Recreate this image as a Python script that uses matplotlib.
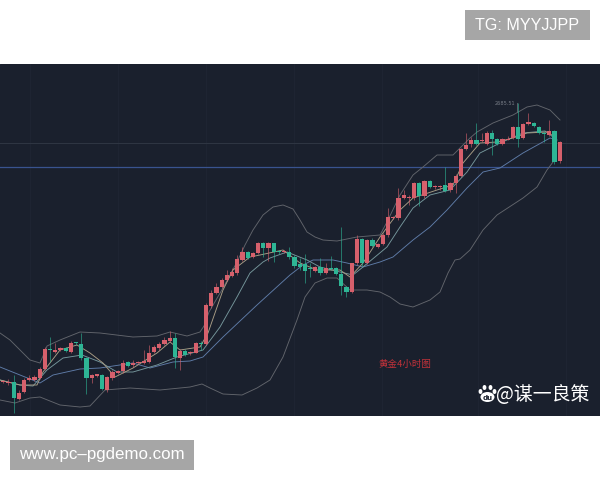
import numpy as np
import matplotlib
matplotlib.use("Agg")
import matplotlib.pyplot as plt
from matplotlib.patches import Rectangle, Ellipse

# one entry per candle, chart scale (smaller = higher price)
body_top = [382,381,382,382,393,380,378,377,369,349,349,350,348,348,343,342,344,358,375,374,375,377,372,371,363,362,363,362,361,353,347,344,340,338,338,351,351,352,343,343,305,293,287,280,275,272,259,252,252,253,243,243,243,243,251,251,252,257,264,264,268,267,267,268,268,268,274,287,263,239,239,240,240,244,235,217,217,198,195,197,183,183,181,181,186,186,185,183,176,149,145,140,140,140,133,133,139,139,139,127,127,124,122,123,127,133,131,131,142]
body_bot = [387,382,383,398,399,392,380,380,378,369,350,352,350,351,352,343,358,378,378,376,389,390,378,373,371,366,365,363,363,362,352,348,344,341,357,358,355,353,353,344,344,306,293,287,280,276,273,260,258,257,253,248,248,252,252,252,257,266,267,271,269,271,273,273,269,274,286,292,292,263,263,263,246,247,244,235,218,218,198,198,198,196,196,187,187,187,191,190,183,176,149,144,144,141,144,139,144,144,140,138,139,138,124,126,133,134,135,162,161]
wick_top = [380,380,379,375,390,378,375,375,367,347,337,343,347,347,341,342,333,357,374,374,374,376,370,370,360,361,360,361,350,345,345,342,337,331,333,349,349,351,342,341,303,290,283,278,270,268,255,247,251,252,242,242,242,243,250,250,247,255,258,254,263,266,258,263,256,267,227,286,263,235,238,239,238,243,233,208,216,188,190,195,182,182,180,180,185,185,167,182,174,148,133,137,123,133,131,130,138,138,136,126,103,123,113,122,126,131,120,130,141]
wick_bot = [389,383,385,413,400,393,381,381,379,370,362,353,351,352,353,345,360,394,383,377,390,392,380,374,373,367,367,364,364,363,353,350,345,342,368,370,356,355,353,350,345,308,294,288,281,277,275,261,259,258,254,257,261,262,254,253,259,268,270,283,277,272,275,274,270,275,295,297,293,265,266,264,247,248,245,237,219,220,199,205,200,206,198,188,189,190,192,192,193,177,150,147,145,142,145,155,145,145,140,139,147,139,125,127,134,142,136,164,163]
green_candles = [3,10,13,15,16,17,20,25,34,36,39,48,51,53,54,56,57,58,59,60,62,64,65,66,67,70,72,81,83,86,92,95,96,100,103,104,105,107]

candle_time = [5.2 * i - 2 for i in range(len(body_top))]

upper_t = [0,10,20,30,40,43,47,60,80,100,133,157,170,187,200,204,209,223,237,245,253,263,273,283,293,300,307,315,323,337,347,357,380,387,400,413,423,437,453,460,470,477,493,513,527,537,550,560]
upper_v = [333,340,350,360,363,356,346,340,332,333,337,336,332,336,332,326,312,288,262,245,230,215,207,205,209,220,232,237,240,241,239,237,235,222,195,175,167,155,155,148,138,132,123,115,107,105,110,120]
lower_t = [0,15,30,40,60,80,90,105,130,160,180,190,202,210,223,242,257,270,283,297,305,315,327,337,350,367,380,390,400,413,430,440,448,455,460,470,483,497,523,537,547,553]
lower_v = [400,403,398,397,405,407,406,390,388,390,388,387,384,388,394,395,388,380,357,320,297,283,278,278,290,290,292,297,304,307,300,292,273,260,259,250,230,215,198,187,170,162]
mid_t = [0,20,40,53,80,100,133,150,173,190,203,223,257,290,303,313,333,347,363,380,393,413,430,447,467,483,500,523,550,556]
mid_v = [367,375,383,375,369,368,363,368,362,361,357,337,305,275,265,260,260,263,267,262,257,240,227,210,188,172,168,153,138,140]
fast_t = [0,20,37,43,60,77,90,103,115,133,157,170,180,200,208,223,233,250,260,283,300,317,340,350,363,380,400,413,437,453,463,480,497,513,527,547,555]
fast_v = [380,385,385,372,350,345,353,363,377,368,353,342,350,347,333,290,270,257,255,250,263,270,270,277,263,237,210,198,190,185,163,143,142,138,133,132,137]
slow_t = [0,20,33,47,63,82,100,117,133,157,177,203,220,237,250,263,270,287,307,320,340,353,363,387,400,413,430,450,467,480,500,523,545,557]
slow_v = [380,385,386,370,358,355,362,372,372,365,357,350,327,297,273,262,258,252,260,267,272,275,267,247,227,208,195,190,172,153,143,133,131,140]

top_label = "TG: MYYJJPP"
bottom_label = "www.pc\u2013pgdemo.com"
chart_note = "黄金4小时图"
peak_label = "2685.51"
watermark = "@谋一良策"
level_blue = 167
level_grey = 143

BG = "#1a202d"
RED = "#d6606c"
GREEN = "#2eb595"

fig = plt.figure(figsize=(6, 4.8), dpi=100, facecolor="white")
ax = fig.add_axes([0, 64 / 480, 1, 352 / 480], facecolor=BG)
ax.set_xlim(0, 600)
ax.set_ylim(416, 64)
ax.set_axis_off()
ax.add_patch(Rectangle((0, 64), 600, 352, color=BG, zorder=0))

for gx in (30, 118, 206, 294, 382, 478, 566):
    ax.axvline(gx, color="#1e2432", lw=0.8, zorder=1)
ax.axhline(level_grey, color="#2f3643", lw=0.7, zorder=1)
ax.axhline(level_blue, color="#39538f", lw=0.9, zorder=2)

line_kw = dict(lw=0.65, zorder=3, solid_joinstyle="round")
ax.plot(upper_t, upper_v, color="#62656c", **line_kw)
ax.plot(lower_t, lower_v, color="#62656c", **line_kw)
ax.plot(mid_t, mid_v, color="#5f7ca8", **line_kw)
ax.plot(slow_t, slow_v, color="#76979c", **line_kw)
ax.plot(fast_t, fast_v, color="#aa9e86", **line_kw)

cols = [GREEN if i in green_candles else RED for i in range(len(body_top))]
ax.vlines(candle_time, wick_top, wick_bot, colors=cols, lw=0.7, alpha=0.6, zorder=4)
ax.bar(candle_time, np.array(body_bot) - np.array(body_top), bottom=body_top,
       width=4.2, color=cols, zorder=5, linewidth=0)

ax.plot([517, 517], [103, 112], color="#666b75", lw=0.6, zorder=4)
ax.text(505, 103, peak_label, color="#777c86", fontsize=3.6, ha="center", va="center", zorder=6)
ax.text(405, 364.5, chart_note, color="#c4323a", fontsize=6.8, ha="center", va="center",
        family=["Noto Sans CJK SC", "DejaVu Sans"], fontweight="medium", zorder=6)

# page overlay in the picture's own coordinates
ov = fig.add_axes([0, 0, 1, 1], facecolor="none")
ov.set_xlim(0, 600)
ov.set_ylim(480, 0)
ov.set_axis_off()
ov.add_patch(Rectangle((465, 10), 125, 30, color="#a6a6a6", lw=0))
ov.text(527.5, 25.5, top_label, color="white", fontsize=11.6, ha="center", va="center", family="Liberation Sans")
ov.add_patch(Rectangle((10, 440), 184, 30, color="#a6a6a6", lw=0))
ov.text(102, 455, bottom_label, color="white", fontsize=12.2, ha="center", va="center", family="Liberation Sans")

ov.text(543, 394, watermark, color="white", fontsize=13.6, ha="center", va="center",
        family=["Noto Sans CJK SC", "DejaVu Sans"], fontweight="light")
for cx, cy, w, h in [(480.5, 391.5, 3.8, 5), (484.5, 387.5, 3.8, 5), (490.5, 387.5, 3.8, 5), (494.5, 391.5, 3.8, 5), (487.5, 397, 14, 10)]:
    ov.add_patch(Ellipse((cx, cy), w, h, color="white", lw=0))
ov.text(487.5, 397.5, "du", color="#1a202d", fontsize=5, ha="center", va="center", fontweight="bold")

fig.savefig("out.png", dpi=100, facecolor="white")
